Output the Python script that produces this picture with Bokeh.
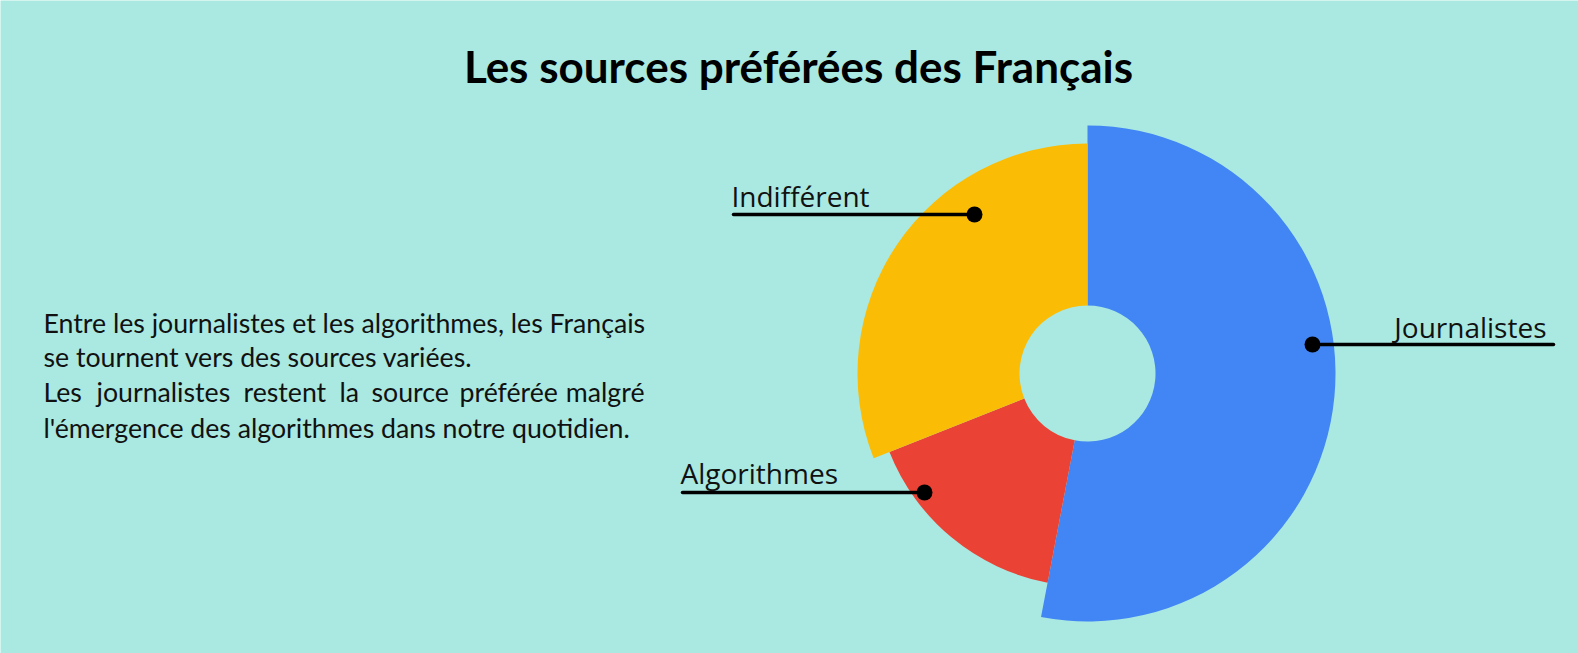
import numpy as np
from bokeh.plotting import figure
from bokeh.models import Range1d, ColumnDataSource
from bokeh.core.properties import value
from bokeh.embed import file_html
from bokeh.resources import INLINE

W, H = 1578, 653

# ---- data ----
categories = ["Journalistes", "Algorithmes", "Indifférent"]
parts = [53, 16, 31]            # % of respondents
colors = ["#4285F4", "#EA4335", "#FBBC05"]

title = "Les sources préférées des Français"
desc_lines = [
    "Entre les journalistes et les algorithmes, les Français",
    "se tournent vers des sources variées.",
    None,  # justified line, drawn word by word
    "l'émergence des algorithmes dans notre quotidien.",
]
justified_words = ["Les", "journalistes", "restent", "la", "source", "préférée", "malgré"]

# ---- layout / style ----
BG = "#a9e9e1"
cx, cy = 1087, H - 373
inner_r = 68
outer_r = [248, 213, 230]
FONT_T = "Lato"
FONT_L = "Open Sans"
FONT_D = "Lato"
FS_T, FS_L, FS_D = 44, 28, 26.7
SHIFT = 0.38  # baseline correction (fraction of font size)

p = figure(width=W, height=H, output_backend="svg", toolbar_location=None,
           x_range=Range1d(0, W), y_range=Range1d(0, H), min_border=0)
p.axis.visible = False
p.grid.visible = False
p.outline_line_color = None
p.background_fill_color = BG
p.border_fill_color = BG

# angles: start at top, go clockwise
fr = np.array(parts, dtype=float) / sum(parts)
ends = np.pi / 2 - np.concatenate([[0], np.cumsum(fr)[:-1]]) * 2 * np.pi
starts = ends - fr * 2 * np.pi
src = ColumnDataSource(dict(x=[cx] * 3, y=[cy] * 3, start=starts, end=ends,
                            r=outer_r, c=colors, cat=categories))
p.annular_wedge(x="x", y="y", inner_radius=inner_r, outer_radius="r",
                start_angle="start", end_angle="end", fill_color="c",
                line_color=None, source=src)


def ty(y_img, fs):
    return H - y_img + SHIFT * fs


# leaders: (dot x, dot y, line other end x, text x, text baseline y, align)
leaders = {
    "Indifférent": (974, 214, 733, 731, 206, "left"),
    "Algorithmes": (924, 492, 682, 680, 483, "left"),
    "Journalistes": (1312, 344, 1553, 1546, 337, "right"),
}
for cat in categories:
    dx, dy, lx, tx, tyy, al = leaders[cat]
    p.line([dx, lx], [H - dy, H - dy], line_color="black", line_width=3.5, line_cap="round")
    p.scatter([dx], [H - dy], size=16, fill_color="black", line_color=None)
    p.text([tx], [ty(tyy, FS_L)], text=[cat], text_font=value(FONT_L),
           text_font_size=f"{FS_L}px", text_align=al, text_baseline="alphabetic",
           text_color="#111111")

# title
p.text([798], [ty(82, FS_T)], text=[title], text_font=value(FONT_T),
       text_font_size=f"{FS_T}px", text_font_style="bold", text_align="center",
       text_baseline="alphabetic", text_color="black")

# description
baselines = [333, 367, 402, 438]
for i, line in enumerate(desc_lines):
    if line is None:
        continue
    p.text([43], [ty(baselines[i], FS_D)], text=[line], text_font=value(FONT_D),
           text_font_size=f"{FS_D}px", text_align="left", text_baseline="alphabetic",
           text_color="#111111")
word_x = [43, 96, 243, 339, 371, 459]
p.text(word_x, [ty(baselines[2], FS_D)] * len(word_x), text=justified_words[:-1],
       text_font=value(FONT_D), text_font_size=f"{FS_D}px", text_align="left",
       text_baseline="alphabetic", text_color="#111111")
p.text([644], [ty(baselines[2], FS_D)], text=justified_words[-1:],
       text_font=value(FONT_D), text_font_size=f"{FS_D}px", text_align="right",
       text_baseline="alphabetic", text_color="#111111")

open("out.html", "w").write(file_html(p, INLINE))
